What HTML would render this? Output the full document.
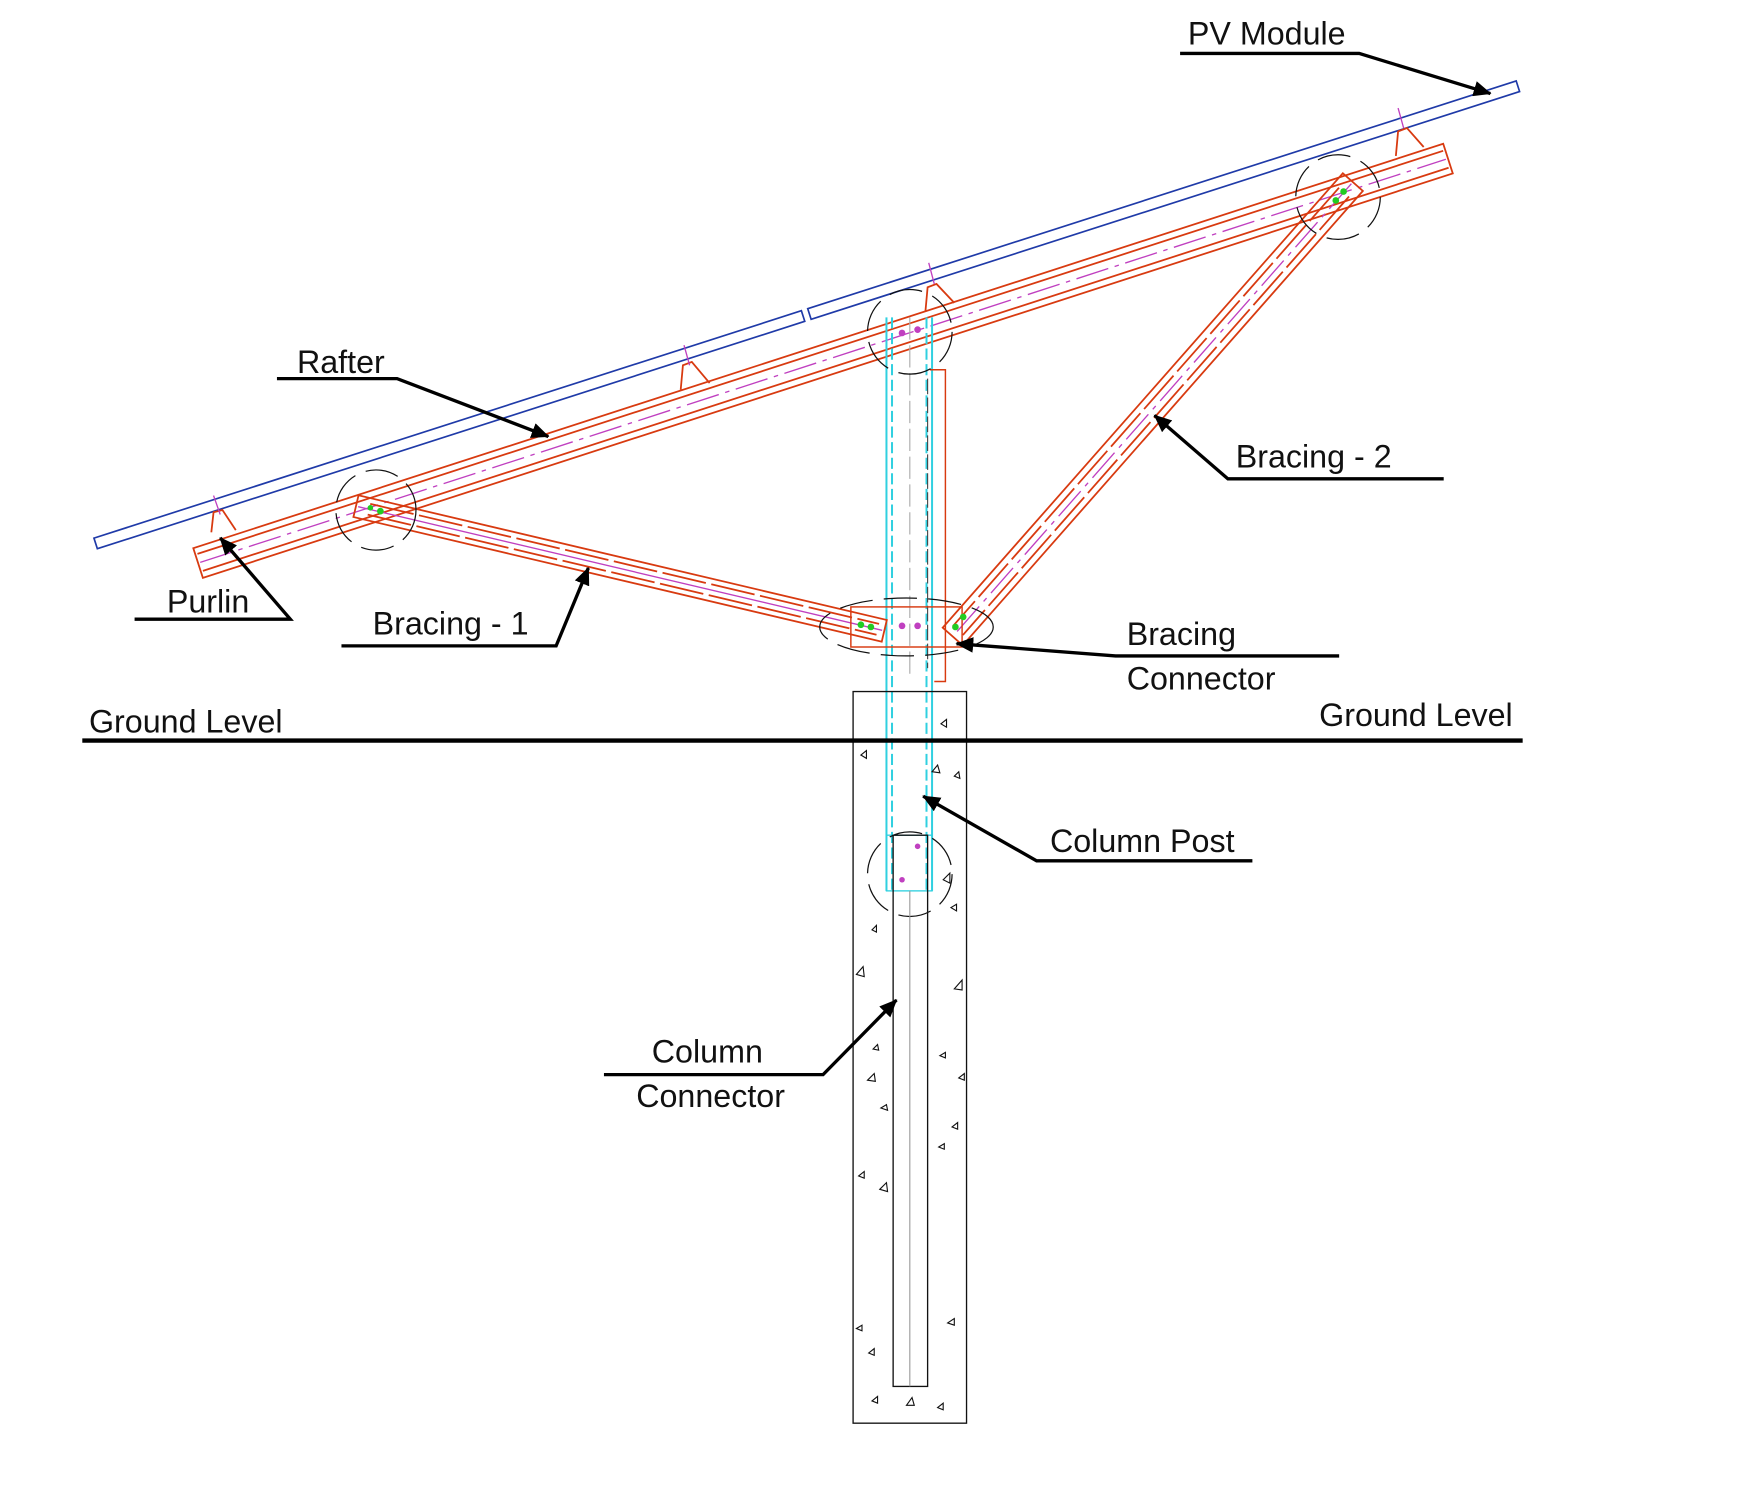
<!DOCTYPE html>
<html><head><meta charset="utf-8"><style>
html,body{margin:0;padding:0;background:#fff}
svg{display:block}
text{font-family:"Liberation Sans",sans-serif;font-size:29px;fill:#111}
</style></head><body>
<svg width="1744" height="1494" viewBox="0 0 1568 1341.6" preserveAspectRatio="none" xmlns="http://www.w3.org/2000/svg">
<defs>
<marker id="ar2" markerWidth="16" markerHeight="14" refX="15" refY="7" orient="auto" markerUnits="userSpaceOnUse" viewBox="0 0 16 14">
<path d="M0,0 L16,7 L0,14 z" fill="#000"/></marker>
</defs>

<!-- PV module -->
<g transform="translate(86,488) rotate(-17.8)" fill="none" stroke="#1f3aa8" stroke-width="1.5">
<rect x="0" y="-5" width="668" height="10"/>
<rect x="674" y="-5" width="669" height="10"/>
</g>

<!-- Rafter -->
<g transform="translate(180,505) rotate(-17.91)" fill="none" stroke="#d83a10" stroke-width="1.6">
<rect x="-2" y="-14" width="1181" height="28"/>
<line x1="0" y1="-8" x2="1177" y2="-8"/>
<line x1="0" y1="8" x2="1177" y2="8"/>
<line x1="0" y1="0" x2="1177" y2="0" stroke="#c040c0" stroke-width="1.2" stroke-dasharray="30,6,4,6"/>
</g>

<!-- purlin clips -->
<g fill="none" stroke="#d83a10" stroke-width="1.6">
<path d="M190,478 L192,460 L200,458 L212,476"/>
<path d="M612,350 L614,328 L622,325 L638,344"/>
<path d="M832,280 L834,258 L842,255 L858,272"/>
<path d="M1255,140 L1257,118 L1265,115 L1280,132"/>
</g>
<g stroke="#c040c0" stroke-width="1.2">
<line x1="192" y1="445" x2="198" y2="462"/><line x1="615" y1="310" x2="620" y2="328"/>
<line x1="835" y1="236" x2="840" y2="255"/><line x1="1257" y1="97" x2="1262" y2="115"/>
</g>

<!-- Column post -->
<g fill="none" stroke="#30d0e0" stroke-width="1.8">
<line x1="797" y1="285" x2="797" y2="800"/>
<line x1="838" y1="285" x2="838" y2="800"/>
<line x1="802" y1="285" x2="802" y2="800" stroke-dasharray="10,4"/>
<line x1="833" y1="285" x2="833" y2="800" stroke-dasharray="10,4"/>
<rect x="797" y="750" width="41" height="50" stroke-width="1.2"/>
</g>
<line x1="818" y1="285" x2="818" y2="610" stroke="#aaa" stroke-width="1" stroke-dasharray="20,5"/>
<path d="M836,332 L850,332 L850,612 L840,612" fill="none" stroke="#d83a10" stroke-width="1.3"/>
<line x1="834" y1="340" x2="834" y2="600" stroke="#444" stroke-width="1" stroke-dasharray="14,3"/>

<!-- Bracing 1 -->
<g transform="translate(322,455) rotate(13.26)" fill="none" stroke="#d83a10" stroke-width="1.6">
<rect x="-2" y="-10" width="488" height="20"/>
<line x1="10" y1="-5" x2="480" y2="-5" stroke-dasharray="40,5"/>
<line x1="10" y1="5" x2="480" y2="5" stroke-dasharray="40,5"/>
<line x1="0" y1="0" x2="484" y2="0" stroke="#c040c0" stroke-width="1.2"/>
</g>

<!-- Bracing 2 -->
<g transform="translate(1215,165) rotate(131.4)" fill="none" stroke="#d83a10" stroke-width="1.6">
<rect x="-2" y="-12" width="544" height="24"/>
<line x1="10" y1="-6" x2="535" y2="-6" stroke-dasharray="40,5"/>
<line x1="10" y1="6" x2="535" y2="6" stroke-dasharray="40,5"/>
<line x1="0" y1="0" x2="540" y2="0" stroke="#c040c0" stroke-width="1.2" stroke-dasharray="30,6,4,6"/>
</g>

<rect x="765" y="545" width="100" height="36" fill="none" stroke="#d83a10" stroke-width="1.3"/>

<g fill="#c040c0"><circle cx="811" cy="299" r="3"/><circle cx="825" cy="296" r="3"/>
<circle cx="811" cy="562" r="3"/><circle cx="825" cy="562" r="3"/>
<circle cx="825" cy="760" r="2.5"/><circle cx="811" cy="790" r="2.5"/></g>
<g fill="#22cc22"><circle cx="333" cy="456" r="2.5"/><circle cx="342" cy="459" r="3"/>
<circle cx="774" cy="561" r="3"/><circle cx="783" cy="563" r="3"/>
<circle cx="859" cy="563" r="3"/><circle cx="866" cy="554" r="3"/>
<circle cx="1201" cy="180" r="3"/><circle cx="1208" cy="172" r="3"/></g>

<g fill="none" stroke="#111" stroke-width="1.1" stroke-dasharray="30,10">
<circle cx="818" cy="298" r="38"/>
<circle cx="338" cy="458" r="36"/>
<circle cx="1203" cy="177" r="38"/>
<circle cx="818" cy="785" r="38"/>
<ellipse cx="815" cy="563" rx="78" ry="26"/>
</g>

<rect x="767" y="621" width="102" height="657" fill="none" stroke="#111" stroke-width="1.2"/>
<rect x="803" y="750" width="31" height="495" fill="none" stroke="#111" stroke-width="1.2"/>
<line x1="818" y1="800" x2="818" y2="1245" stroke="#999" stroke-width="1"/>
<g fill="none" stroke="#111" stroke-width="1">
<path d="M846,650 l5,-4 l0,7z"/><path d="M774,678 l5,-4 l0,7z"/><path d="M838,693 l5,-6 l2,7z"/>
<path d="M858,697 l4,-4 l1,6z"/><path d="M848,790 l6,-6 l0,9z"/><path d="M855,815 l5,-3 l0,6z"/>
<path d="M784,835 l4,-4 l0,6z"/><path d="M770,875 l6,-7 l1,9z"/><path d="M858,888 l7,-8 l0,9z"/>
<path d="M785,942 l4,-4 l1,5z"/><path d="M845,948 l5,-3 l0,5z"/><path d="M780,970 l6,-6 l1,7z"/>
<path d="M862,968 l5,-4 l0,6z"/><path d="M792,995 l5,-3 l1,5z"/><path d="M856,1012 l5,-4 l0,6z"/>
<path d="M844,1030 l5,-3 l0,5z"/><path d="M772,1056 l5,-4 l0,6z"/><path d="M791,1068 l6,-6 l1,8z"/>
<path d="M852,1188 l6,-4 l0,6z"/><path d="M770,1193 l5,-3 l0,5z"/><path d="M781,1215 l5,-4 l0,6z"/>
<path d="M784,1258 l5,-4 l0,6z"/><path d="M815,1262 l5,-7 l2,7z"/><path d="M843,1264 l5,-4 l0,6z"/>
</g>

<line x1="74" y1="665" x2="1369" y2="665" stroke="#000" stroke-width="4"/>

<g fill="none" stroke="#000" stroke-width="3">
<path d="M1061,48 L1222,48 L1340,84" marker-end="url(#ar2)"/>
<path d="M249,340 L357,340 L493,392" marker-end="url(#ar2)"/>
<path d="M1298,430 L1104,430 L1038,373" marker-end="url(#ar2)"/>
<path d="M121,556 L261,556 L198,483" marker-end="url(#ar2)"/>
<path d="M307,580 L500,580 L529,510" marker-end="url(#ar2)"/>
<path d="M1204,589 L1003,589 L860,578" marker-end="url(#ar2)"/>
<path d="M1126,773 L932,773 L830,715" marker-end="url(#ar2)"/>
<path d="M543,965 L740,965 L806,898" marker-end="url(#ar2)"/>
</g>

<text x="1068" y="40">PV Module</text>
<text x="267" y="335">Rafter</text>
<text x="1111" y="420">Bracing - 2</text>
<text x="150" y="550">Purlin</text>
<text x="335" y="570">Bracing - 1</text>
<text x="1013" y="579">Bracing</text>
<text x="1013" y="619">Connector</text>
<text x="80" y="658">Ground Level</text>
<text x="1186" y="652">Ground Level</text>
<text x="944" y="765">Column Post</text>
<text x="586" y="954">Column</text>
<text x="572" y="994">Connector</text>
</svg>
</body></html>
